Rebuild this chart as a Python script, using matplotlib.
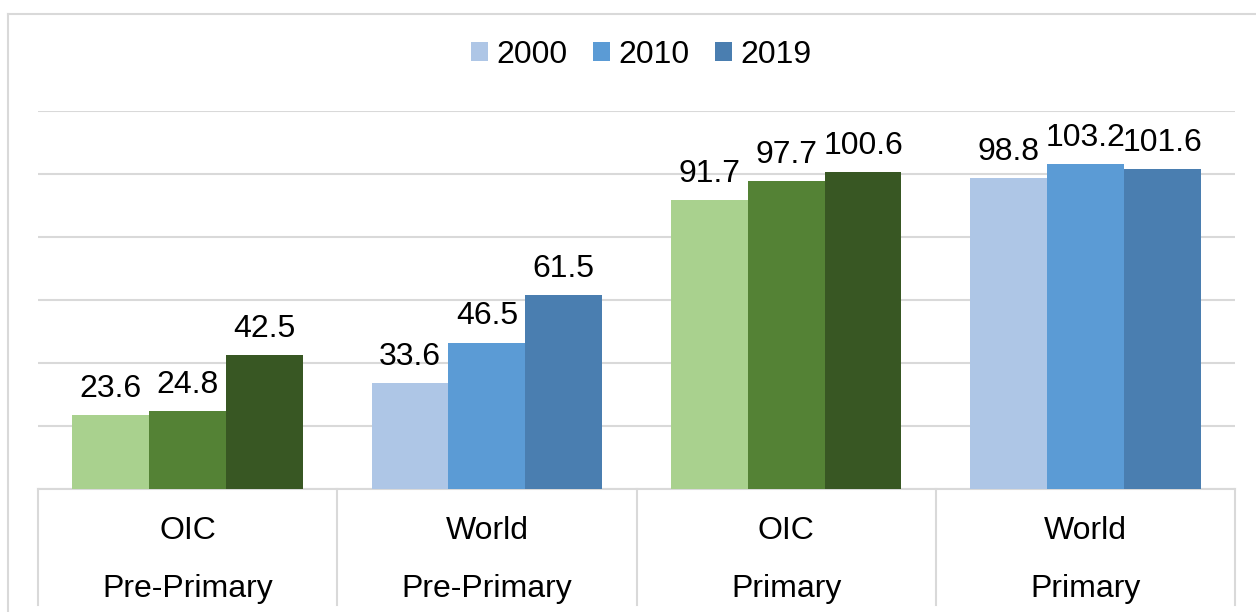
import matplotlib
matplotlib.use("Agg")
import matplotlib.pyplot as plt
from matplotlib.patches import Patch
import numpy as np

plt.rcParams['font.family'] = ['Liberation Sans', 'DejaVu Sans']

# data
groups = ['OIC', 'World', 'OIC', 'World']
levels = ['Pre-Primary', 'Pre-Primary', 'Primary', 'Primary']
years = ['2000', '2010', '2019']
values = {
    '2000': [23.6, 33.6, 91.7, 98.8],
    '2010': [24.8, 46.5, 97.7, 103.2],
    '2019': [42.5, 61.5, 100.6, 101.6],
}

greens = ['#a9d18e', '#548235', '#385723']
blues = ['#aec6e6', '#5b9bd5', '#4a7eb0']
group_colors = [greens, blues, greens, blues]

fs = 23

fig = plt.figure(figsize=(12.56, 6.12), dpi=100)
ax = fig.add_axes([38 / 1256, 1 - 489 / 612, (1235 - 38) / 1256, 378 / 612])

x = np.arange(len(groups))
w = 0.257
for i, yr in enumerate(years):
    cols = [gc[i] for gc in group_colors]
    bars = ax.bar(x + (i - 1) * w, values[yr], width=w, color=cols, zorder=3)
    for b, v in zip(bars, values[yr]):
        ax.annotate(f'{v:.1f}', (b.get_x() + b.get_width() / 2, v),
                    xytext=(0, 13), textcoords='offset points',
                    ha='center', va='baseline', fontsize=fs)

ax.set_xlim(-0.5, len(groups) - 0.5)
ax.set_ylim(0, 120)
ax.set_yticks(np.arange(0, 121, 20))
ax.yaxis.grid(True, color='#d9d9d9', linewidth=1.5, zorder=0)
ax.set_xticks([])
ax.tick_params(left=False, labelleft=False)
for s in ['top', 'right', 'left']:
    ax.spines[s].set_visible(False)
ax.spines['bottom'].set_color('#d9d9d9')
ax.spines['bottom'].set_linewidth(1.5)

# category axis with separators
trans = ax.get_xaxis_transform()
for b in np.arange(-0.5, len(groups), 1.0):
    ax.plot([b, b], [0, -0.308], transform=trans, color='#d9d9d9',
            linewidth=1.5, clip_on=False)
for xi, g, lv in zip(x, groups, levels):
    ax.text(xi, -0.132, g, transform=trans, ha='center', va='baseline', fontsize=fs)
    ax.text(xi, -0.286, lv, transform=trans, ha='center', va='baseline', fontsize=fs)

# outer chart border (left and top visible)
fig.add_artist(plt.Line2D([8 / 1256, 8 / 1256], [0, 1 - 14 / 612],
                          color='#d9d9d9', linewidth=1.5))
fig.add_artist(plt.Line2D([8 / 1256, 1], [1 - 14 / 612, 1 - 14 / 612],
                          color='#d9d9d9', linewidth=1.5))

handles = [Patch(facecolor=c, label=y) for c, y in zip(blues, years)]
fig.legend(handles=handles, loc='center', bbox_to_anchor=(641 / 1256, 1 - 55 / 612),
           ncol=3, frameon=False, fontsize=fs, handlelength=0.53, handleheight=0.53,
           handletextpad=0.26, columnspacing=0.8)

fig.savefig('out.png', dpi=100)
